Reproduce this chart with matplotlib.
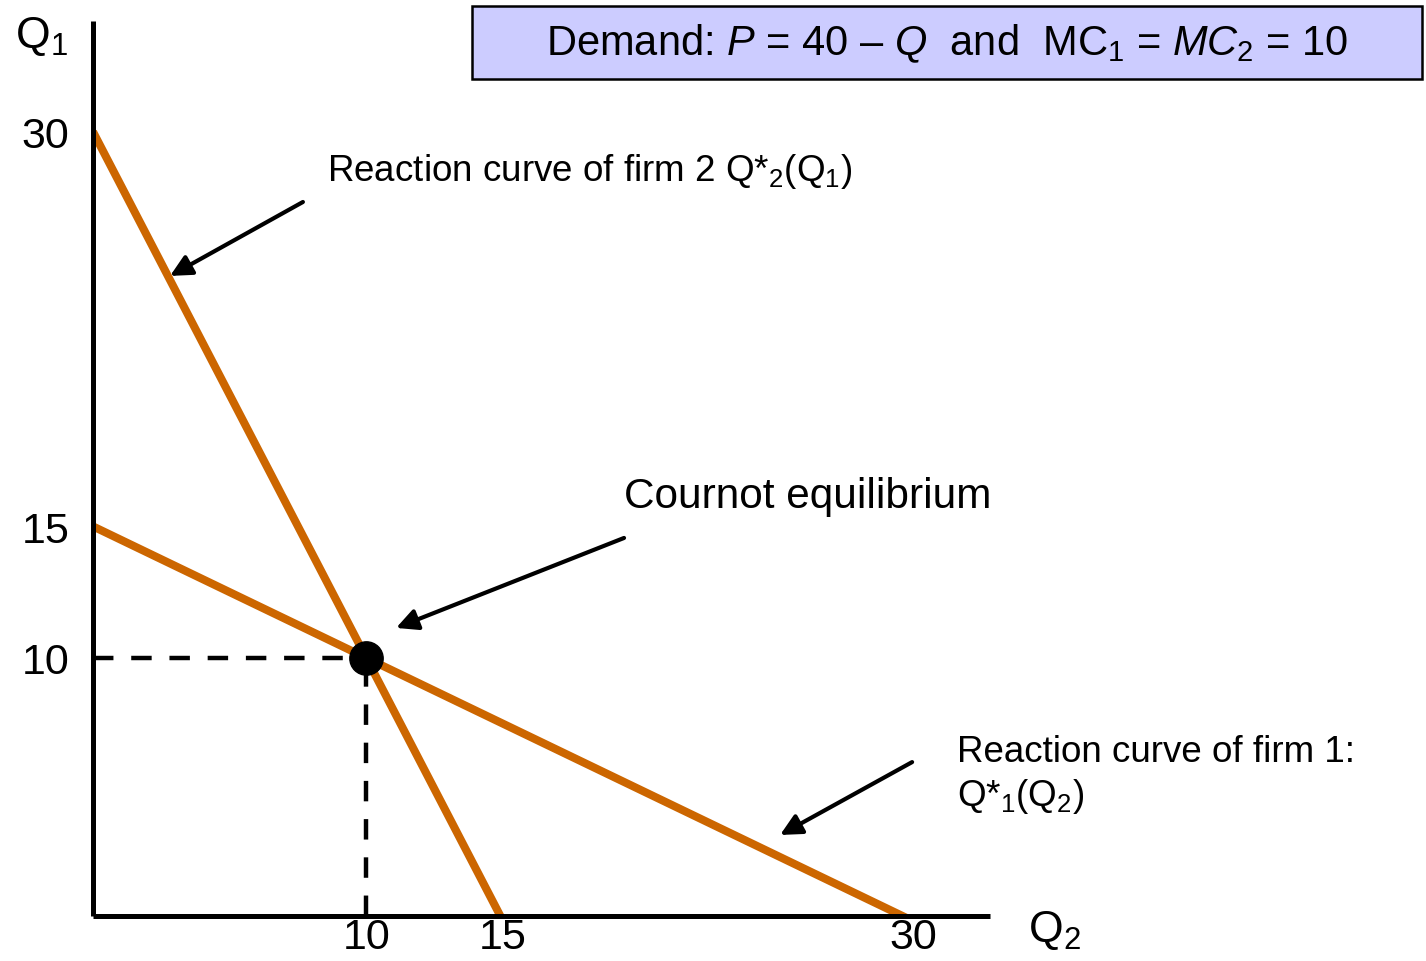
import matplotlib
matplotlib.use('Agg')
import matplotlib.pyplot as plt
from matplotlib.patches import Rectangle

plt.rcParams['font.family'] = ['Liberation Sans', 'DejaVu Sans']
plt.rcParams['mathtext.fontset'] = 'custom'
plt.rcParams['mathtext.rm'] = 'Liberation Sans'
plt.rcParams['mathtext.it'] = 'Liberation Sans:italic'
plt.rcParams['mathtext.bf'] = 'Liberation Sans:bold'

# reaction curves (Q2 on x, Q1 on y)
FIRM2_Q2 = [0, 15]
FIRM2_Q1 = [30, 0]
FIRM1_Q2 = [0, 30]
FIRM1_Q1 = [15, 0]
EQ_Q2, EQ_Q1 = 10, 10
XTICKS = [10, 15, 30]
YTICKS = [10, 15, 30]

ORANGE = '#CC6600'
W, H = 1426, 962

fig = plt.figure(figsize=(W/100, H/100), dpi=100)
ax = fig.add_axes([93/W, 45/H, 897/W, 895/H])
ax.set_xlim(0, 32.82)
ax.set_ylim(0.19, 34.21)

for sp in ['top', 'right']:
    ax.spines[sp].set_visible(False)
for sp in ['left', 'bottom']:
    ax.spines[sp].set_linewidth(3.6)
    ax.spines[sp].set_capstyle('butt')
    ax.spines[sp].set_zorder(6)

ax.plot(FIRM2_Q2, FIRM2_Q1, color=ORANGE, lw=5.8, solid_capstyle='butt', zorder=3)
ax.plot(FIRM1_Q2, FIRM1_Q1, color=ORANGE, lw=5.8, solid_capstyle='butt', zorder=3)

ax.plot([0, EQ_Q2], [EQ_Q1, EQ_Q1], color='black', lw=3.2,
        dashes=(4.6, 4.0), zorder=2)
ax.plot([EQ_Q2, EQ_Q2], [ax.get_ylim()[0], EQ_Q1], color='black', lw=3.2,
        dashes=(4.6, 4.0), zorder=2)
ax.plot(EQ_Q2, EQ_Q1, 'o', color='black', ms=24, zorder=5)

ax.set_xticks(XTICKS)
ax.set_xticklabels([str(v) for v in XTICKS])
ax.set_yticks(YTICKS)
ax.set_yticklabels([str(v) for v in YTICKS])
ax.tick_params(axis='both', length=0, labelsize=31)
ax.tick_params(axis='x', pad=1)
ax.tick_params(axis='y', pad=17)

arrow = dict(arrowstyle='-|>', lw=3, color='black', mutation_scale=32,
             shrinkA=0, shrinkB=0)
ax.annotate('', xy=(2.82, 24.52), xytext=(7.68, 27.33), arrowprops=arrow)
ax.annotate('', xy=(11.09, 11.14), xytext=(19.43, 14.56), arrowprops=arrow)
ax.annotate('', xy=(25.14, 3.27), xytext=(29.97, 6.04), arrowprops=arrow)

ax.text(8.56, 28.16, r'Reaction curve of firm 2 Q*$_\mathrm{2}$(Q$_\mathrm{1}$)',
        fontsize=26.5, va='baseline', ha='left')
ax.text(19.43, 15.74, 'Cournot equilibrium', fontsize=30.5, va='baseline', ha='left')
ax.text(31.61, 6.08, 'Reaction curve of firm 1:', fontsize=26.5, va='baseline',
        ha='left', clip_on=False)
ax.text(31.61, 4.41, r'Q*$_\mathrm{1}$(Q$_\mathrm{2}$)', fontsize=26.5,
        va='baseline', ha='left', clip_on=False)

fig.text(15/W, 1 - 48/H, r'Q$_\mathrm{1}$', fontsize=32, va='baseline', ha='left')
fig.text(1028/W, 1 - 942/H, r'Q$_\mathrm{2}$', fontsize=32, va='baseline', ha='left')

fig.patches.append(Rectangle((472/W, 1 - 80/H), 950/W, 73/H, transform=fig.transFigure,
                             facecolor='#CCCCFF', edgecolor='black', lw=1.8))
fig.text(947/W, 1 - 44/H,
         r'Demand: $P$ = 40 – $Q$  and  MC$_{\mathit{1}}$ = $MC_{\mathrm{2}}$ = $\mathit{10}$',
         fontsize=30, ha='center', va='center')

fig.savefig('out.png', dpi=100)
